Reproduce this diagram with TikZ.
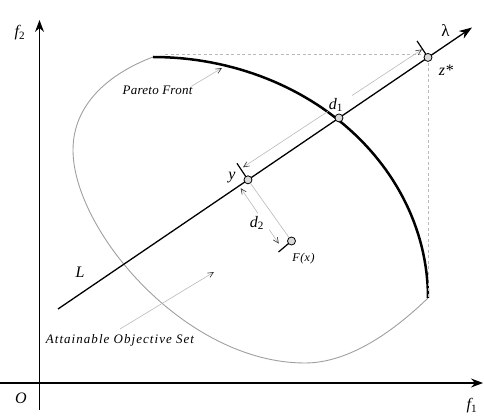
\documentclass[tikz,border=0pt]{standalone}
\usepackage{fontspec}
\setmainfont{Liberation Serif}
\usetikzlibrary{arrows.meta,calc}
\begin{document}
\begin{tikzpicture}[x=1pt,y=-1pt,
  axis/.style={line width=1.3pt,-{Stealth[length=12pt,width=9pt,inset=4pt]}},
  lline/.style={line width=1.3pt,-{Stealth[length=13pt,width=9pt,inset=4pt]}},
  pareto/.style={line width=2.5pt},
  bound/.style={line width=0.9pt,draw=gray!75},
  dashgray/.style={line width=0.6pt,draw=gray!55,dash pattern=on 3pt off 2.5pt},
  thin arrow/.style={line width=0.6pt,draw=gray!55,-{Straight Barb[length=5.5pt,width=5pt,color=black!80]}},
  thin arrowb/.style={line width=0.6pt,draw=gray!55,{Straight Barb[length=5.5pt,width=5pt,color=black!80]}-},
  tick/.style={line width=1.2pt},
  pt/.style={circle,draw=black,fill=gray!30,line width=0.8pt,minimum size=8pt,inner sep=0pt},
  lab/.style={font=\fontsize{16}{18}\selectfont\itshape,inner sep=0pt},
  slab/.style={inner sep=0pt,anchor=base}
]
\useasboundingbox (0,0) rectangle (484,419);

% axes
\coordinate (yb) at (39.5,410);
\coordinate (yt) at (39.5,20);
\coordinate (xl) at (0,383);
\coordinate (xr) at (483,383);
\draw[axis] (yb) -- (yt);
\draw[axis] (xl) -- (xr);
\node[lab] (f2) at (20,33) {f\textsubscript{\upshape 2}};
\node[lab] (f1) at (472,406) {f\textsubscript{\upshape 1}};
\node[lab] (O) at (21,398) {O};

% attainable set boundary
\draw[bound] (153,57) .. controls (108,74) and (73,105) .. (73,150)
  .. controls (73,230) and (185,363) .. (305,363)
  .. controls (350,363) and (395,330) .. (428,298);

% Pareto front
\draw[pareto] plot[domain=-90:0,samples=60] ({153+275*cos(\x)},{298+241*sin(\x)});
\coordinate (pe) at (428,298);

% line L
\coordinate (Ls) at (58,309);
\coordinate (Le) at (472,27.5);

\coordinate (zsc) at ($(Ls)!0.8937!(Le)$);
\coordinate (d1c) at ($(Ls)!0.6787!(Le)$);
\coordinate (yc) at ($(Ls)!0.4589!(Le)$);

% dashed lines
\coordinate (dh) at (165,54.5);
\draw[dashgray] (dh) -- (dh -| zsc);
\draw[dashgray] (zsc) -- (zsc |- pe);

\draw[lline] (Ls) -- (Le);

% ticks
\coordinate (tz) at ($(zsc)+(-11,-16.5)$);
\coordinate (ty) at ($(yc)+(-11,-16.5)$);
\coordinate (Fc) at (291.5,241);
\coordinate (tF) at ($(Fc)+(-13,11)$);
\draw[tick] (zsc) -- (tz);
\draw[tick] (yc) -- (ty);
\draw[tick] (Fc) -- (tF);

% points
\node[pt] (zs) at (zsc) {};
\node[pt] (d1) at (d1c) {};
\node[pt] (yp) at (yc) {};
\node[pt] (Fx) at (Fc) {};
\draw[line width=0.6pt,draw=gray!55] (yp) -- (Fx);

% d1 arrow
\coordinate (a1) at ($(yc)+(-5,-12.5)$);
\coordinate (b1) at ($(zsc)+(-6,-8)$);
\coordinate (g1) at ($(a1)!0.475!(b1)$);
\coordinate (h1) at ($(a1)!0.609!(b1)$);
\draw[thin arrowb] (a1) -- (g1);
\draw[thin arrow] (h1) -- (b1);

% d2 arrow
\coordinate (a2) at ($(yc)+(-7.3,8.3)$);
\coordinate (b2) at ($(Fc)+(-12.7,2.6)$);
\coordinate (g2) at ($(a2)!0.448!(b2)$);
\coordinate (h2) at ($(a2)!0.75!(b2)$);
\draw[thin arrowb] (a2) -- (g2);
\draw[thin arrow] (h2) -- (b2);

% labels
\node[lab,font=\fontsize{17}{19}\selectfont] (lam) at (445.5,31) {λ};
\node[lab] (zl) at (446,70) {z*};
\node[lab] (d1l) at (336,105) {d\textsubscript{\upshape 1}};
\node[lab] (d2l) at (257,223) {d\textsubscript{\upshape 2}};
\node[lab] (yl) at (232,178) {y};
\node[lab] (Ll) at (80,272) {L};
\node[slab,font=\fontsize{12}{14}\selectfont\itshape\addfontfeature{LetterSpace=4}] (Fl) at (303.5,262) {F(x)};

\node[slab,font=\fontsize{13}{15}\selectfont\itshape\addfontfeature{LetterSpace=2}] (pf) at (157.5,95) {Pareto Front};
\node[slab,font=\fontsize{13}{15}\selectfont\itshape\addfontfeature{LetterSpace=8}] (aos) at (120,343) {Attainable Objective Set};

\coordinate (pfa) at (192,86);
\coordinate (pfb) at (222,68);
\draw[thin arrow] (pfa) -- (pfb);
\coordinate (aosa) at (120,329);
\coordinate (aosb) at (214,272);
\draw[thin arrow] (aosa) -- (aosb);
\end{tikzpicture}
\end{document}
